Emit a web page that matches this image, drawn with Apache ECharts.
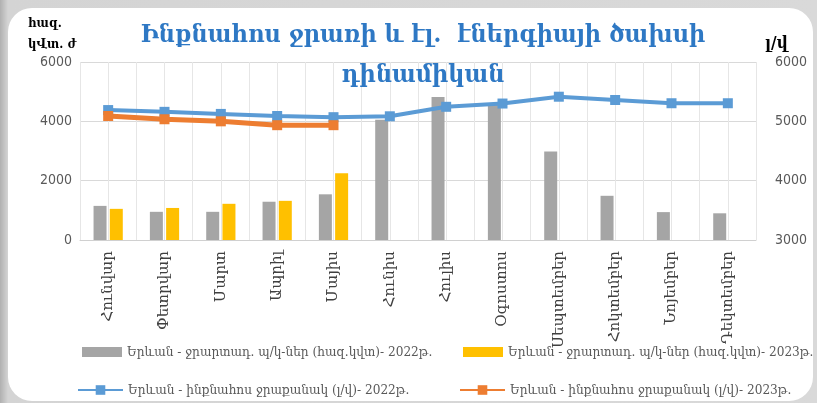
<!DOCTYPE html>
<html>
<head>
<meta charset="utf-8">
<script src="https://cdn.jsdelivr.net/npm/echarts@6/dist/echarts.min.js"></script>
<style>
  html, body { margin: 0; padding: 0; }
  body { width: 817px; height: 403px; overflow: hidden; position: relative;
         background: linear-gradient(90deg, #b0b0b0 0px, #d4d4d4 8px, #d9d9d9 100%); }
  #card { position: absolute; left: 8px; top: 8px; width: 805px; height: 393px;
          background: #fff; border-radius: 24px; }
  #main { position: absolute; left: 0; top: 0; width: 817px; height: 403px; }
</style>
</head>
<body>
<div id="card"></div>
<div id="main"></div>
<script>
// ամիսներ
var months = ['Հունվար', 'Փետրվար', 'Մարտ', 'Ապրիլ', 'Մայիս', 'Հունիս', 'Հուլիս',
  'Օգոստոս', 'Սեպտեմբեր', 'Հոկտեմբեր', 'Նոյեմբեր', 'Դեկտեմբեր'];
var power2022 = [1150, 950, 950, 1290, 1540, 4050, 4820, 4610, 2980, 1490, 940, 900];
var power2023 = [1050, 1080, 1220, 1320, 2250];
var flow2022 = [5190, 5160, 5125, 5090, 5070, 5085, 5245, 5300, 5415, 5360, 5305, 5305];
var flow2023 = [5090, 5035, 5000, 4935, 4935];
var leftTicks = [0, 6000, 2000];
var rightTicks = [3000, 6000, 1000];

var names = [
  'Երևան - ջրարտադ. պ/կ-ներ (հազ.կվտ)- 2022թ.',
  'Երևան - ջրարտադ. պ/կ-ներ (հազ.կվտ)- 2023թ.',
  'Երևան - ինքնահոս ջրաքանակ (լ/վ)- 2022թ.',
  'Երևան - ինքնահոս ջրաքանակ (լ/վ)- 2023թ.'
];

var halfCats = [];
for (var i = 0; i < 24; i++) halfCats.push(i);

var myChart = echarts.init(document.getElementById('main'));
var tickFont = { color: '#595959', fontSize: 14, fontFamily: 'DejaVu Sans Condensed',
  formatter: function (v) { return String(v); } };
var legText = { color: '#595959', fontSize: 13.5, fontFamily: 'DejaVu Serif Condensed' };

function leg(idx, left, top, icon) {
  return {
    data: [names[idx]], left: left, top: top, icon: icon,
    itemWidth: idx < 2 ? 40 : 45, itemHeight: idx < 2 ? 10 : 12, itemGap: 4,
    textStyle: legText, selectedMode: false
  };
}

var option = {
  animation: false,
  title: {
    text: 'Ինքնահոս ջրառի և էլ.  էներգիայի ծախսի\nդինամիկան',
    left: 418, top: 10, textAlign: 'center',
    textStyle: { color: '#2e78c4', fontSize: 25, fontWeight: 'bold', fontFamily: 'DejaVu Serif Condensed', lineHeight: 40 }
  },
  legend: [
    leg(0, 77, 340, 'rect'),
    leg(1, 458, 340, 'rect'),
    leg(2, 72, 378),
    leg(3, 454, 378)
  ],
  grid: { left: 80, right: 61, top: 62, bottom: 163 },
  xAxis: [{
    type: 'category', data: months,
    axisLine: { lineStyle: { color: '#d0d0d0', width: 1 } },
    axisTick: { show: false },
    splitLine: { show: false },
    axisLabel: { rotate: 90, margin: 11, color: '#404040', fontSize: 15, fontFamily: 'DejaVu Serif', interval: 0 }
  }, {
    type: 'category', data: halfCats, show: true, position: 'bottom',
    axisLine: { show: false }, axisTick: { show: false }, axisLabel: { show: false },
    splitLine: { show: true, interval: 0, lineStyle: { color: '#e6e6e6' } }
  }],
  yAxis: [{
    type: 'value', min: leftTicks[0], max: leftTicks[1], interval: leftTicks[2],
    name: 'հազ.\nկՎտ. ժ', nameLocation: 'end', nameGap: 3,
    nameTextStyle: { color: '#000', fontSize: 13, fontWeight: 'bold', fontFamily: 'DejaVu Serif Condensed', align: 'left', padding: [0, 0, 0, -52], lineHeight: 21 },
    axisLabel: tickFont, axisLine: { show: false }, axisTick: { show: false },
    splitLine: { lineStyle: { color: '#d9d9d9' } }
  }, {
    type: 'value', min: rightTicks[0], max: rightTicks[1], interval: rightTicks[2],
    name: 'լ/վ', nameLocation: 'end', nameGap: 10,
    nameTextStyle: { color: '#000', fontSize: 17, fontWeight: 'bold', fontFamily: 'DejaVu Serif Condensed', align: 'left', padding: [0, 0, 0, 9] },
    axisLabel: Object.assign({ margin: 19 }, tickFont), axisLine: { show: false }, axisTick: { show: false },
    splitLine: { show: false }
  }],
  series: [{
    name: names[0], type: 'bar', data: power2022, barWidth: 13, barGap: '25%',
    itemStyle: { color: '#a5a5a5' }
  }, {
    name: names[1], type: 'bar', data: power2023, barWidth: 13,
    itemStyle: { color: '#ffc000' }
  }, {
    name: names[2], type: 'line', yAxisIndex: 1, data: flow2022,
    symbol: 'rect', symbolSize: 10,
    lineStyle: { color: '#5b9bd5', width: 4 }, itemStyle: { color: '#5b9bd5' }
  }, {
    name: names[3], type: 'line', yAxisIndex: 1, data: flow2023,
    symbol: 'rect', symbolSize: 10,
    lineStyle: { color: '#ed7d31', width: 5 }, itemStyle: { color: '#ed7d31' }
  }]
};
myChart.setOption(option);
</script>
</body>
</html>
